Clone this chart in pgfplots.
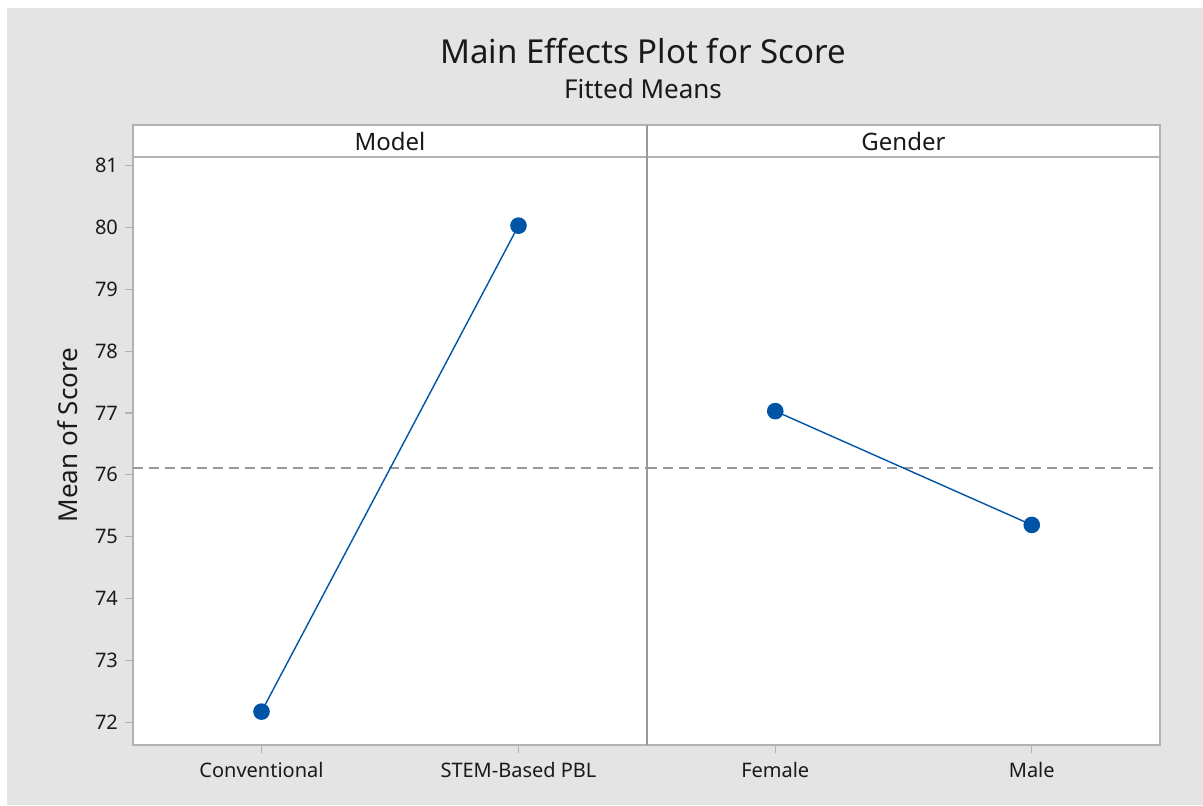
\documentclass[border=0pt]{standalone}
\usepackage{pgfplots}
\pgfplotsset{compat=1.18}
\usepackage{fontspec}
\setmainfont{Noto Sans}
\definecolor{bg}{HTML}{E4E4E4}
\definecolor{frame}{HTML}{B2B2B2}
\definecolor{divider}{HTML}{9A9A9A}
\definecolor{ptblue}{HTML}{0054A6}
\definecolor{refgray}{HTML}{999999}
\definecolor{txt}{HTML}{1A1A1A}
\pgfplotsset{
  panel/.style={
    scale only axis,
    anchor=south west,
    height=294pt,
    xmin=-0.5, xmax=1.5,
    ymin=71.63, ymax=81.14,
    xtick={0,1},
    xtick pos=bottom,
    ytick pos=left,
    tick align=outside,
    major tick length=4pt,
    axis background/.style={fill=white},
    axis line style={frame, line width=1pt},
    tick style={frame, line width=0.6pt},
    /pgf/number format/assume math mode=true,
    xticklabel style={font=\fontsize{10}{12}\selectfont, text=txt, yshift=-1pt},
    yticklabel style={font=\fontsize{10}{12}\selectfont, text=txt},
    clip=false,
  },
  mainline/.style={ptblue, line width=0.7pt, mark=*, mark size=3.8pt, mark options={solid, fill=ptblue, draw=ptblue}},
  refline/.style={refgray, line width=0.7pt, dash pattern=on 5pt off 3pt, forget plot},
}
\begin{document}
\begin{tikzpicture}
\fill[white] (0pt,0pt) rectangle (601.5pt,-402.5pt);
\fill[bg] (3.5pt,-4pt) rectangle (601.5pt,-402.5pt);

\begin{axis}[panel,
  at={(66.5pt,-372.5pt)}, width=257pt,
  xticklabels={Conventional, STEM-Based PBL},
  ytick={72,73,...,81},
  ylabel={Mean of Score},
  every axis y label/.style={at={(axis description cs:0,0.5)}, xshift=-32.5pt, yshift=8pt, rotate=90, anchor=center, font=\fontsize{13}{15}\selectfont, text=txt},
]
\addplot[refline] coordinates {(-0.5,76.11) (1.5,76.11)};
\addplot[mainline] coordinates {(0,72.17) (1,80.03)};
\end{axis}

\begin{axis}[panel,
  at={(323.5pt,-372.5pt)}, width=256.5pt,
  xticklabels={Female, Male},
  ytick=\empty,
]
\addplot[refline] coordinates {(-0.5,76.11) (1.5,76.11)};
\addplot[mainline] coordinates {(0,77.03) (1,75.19)};
\end{axis}

% strip header
\draw[frame, line width=1pt, fill=white] (66.5pt,-62.5pt) rectangle (580pt,-78.5pt);
\draw[divider, line width=0.6pt] (323.5pt,-62.5pt) -- (323.5pt,-372.5pt);
\node[font=\fontsize{12}{14}\selectfont, text=txt] at (195pt,-70.5pt) {Model};
\node[font=\fontsize{12}{14}\selectfont, text=txt] at (451.75pt,-70.5pt) {Gender};

% titles
\node[anchor=base, font=\fontsize{16.5}{19}\selectfont, text=txt] at (321.5pt,-31.5pt) {Main Effects Plot for Score};
\node[anchor=base, font=\fontsize{13}{15}\selectfont, text=txt] at (321.5pt,-49pt) {Fitted Means};
\end{tikzpicture}
\end{document}
